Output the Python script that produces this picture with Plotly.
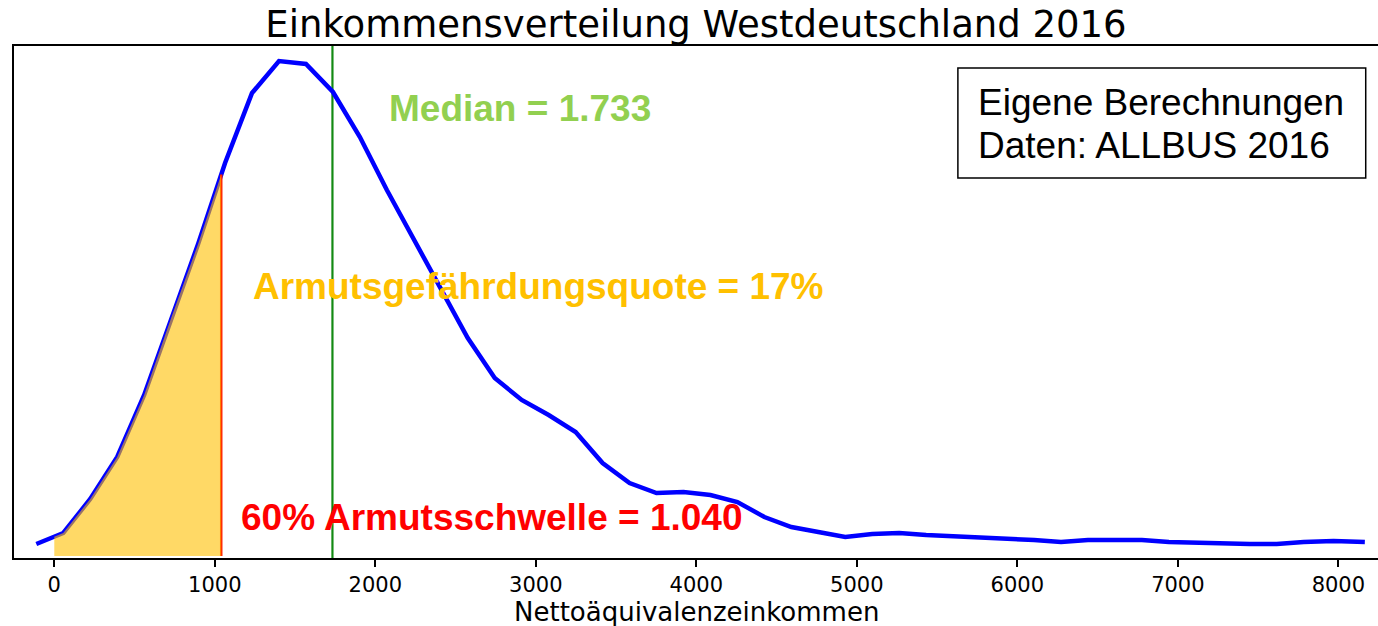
import numpy as np
import plotly.graph_objects as go

# Kernel density estimate of net equivalent income (density in units of 1e-4)
income = [-112, 56, 224, 392, 560, 728, 896, 1064, 1232, 1400,
          1568, 1736, 1904, 2072, 2240, 2408, 2576, 2744, 2912, 3080,
          3248, 3416, 3584, 3752, 3920, 4088, 4256, 4424, 4592, 4760,
          4928, 5096, 5264, 5432, 5600, 5768, 5936, 6104, 6272, 6440,
          6608, 6776, 6944, 7112, 7280, 7448, 7616, 7784, 7970, 8165]
density_e4 = [0.12, 0.23, 0.57, 0.99, 1.61, 2.38, 3.12, 3.93, 4.63, 4.95,
              4.92, 4.64, 4.19, 3.66, 3.16, 2.66, 2.18, 1.78, 1.56, 1.41,
              1.24, 0.93, 0.73, 0.63, 0.64, 0.61, 0.54, 0.39, 0.29, 0.24,
              0.19, 0.22, 0.23, 0.21, 0.20, 0.19, 0.18, 0.16, 0.14, 0.16,
              0.16, 0.16, 0.14, 0.13, 0.12, 0.12, 0.12, 0.14, 0.15, 0.14]

median_income = 1733
poverty_threshold = 1040
tick_values = [0, 1000, 2000, 3000, 4000, 5000, 6000, 7000, 8000]

title_text = "Einkommensverteilung Westdeutschland 2016"
xaxis_title = "Nettoäquivalenzeinkommen"
median_label = "Median = 1.733"
quote_label = "Armutsgefährdungsquote = 17%"
threshold_label = "60% Armutsschwelle = 1.040"
source_lines = ["Eigene Berechnungen", "Daten: ALLBUS 2016"]

inc = np.array(income, dtype=float)
dens = np.array(density_e4, dtype=float)

# shaded area from 0 to poverty threshold
inner = inc[(inc > 0) & (inc < poverty_threshold)]
fill_x = np.concatenate([[0.0], inner, [poverty_threshold]])
fill_y = np.interp(fill_x, inc, dens)
thr_y = float(np.interp(poverty_threshold, inc, dens))

fig = go.Figure()

fig.add_trace(go.Scatter(x=inc, y=dens, mode="lines",
                         line=dict(color="#0000FF", width=4.5),
                         showlegend=False, hoverinfo="skip"))

fig.add_trace(go.Scatter(x=[poverty_threshold, poverty_threshold], y=[0, thr_y],
                         mode="lines", line=dict(color="#FF1A00", width=2.5),
                         showlegend=False, hoverinfo="skip"))

fig.add_trace(go.Scatter(x=fill_x, y=fill_y, mode="none", fill="tozeroy",
                         fillcolor="rgba(255,192,0,0.6)",
                         showlegend=False, hoverinfo="skip"))

fig.add_shape(type="line", xref="x", yref="paper",
              x0=median_income, x1=median_income, y0=0, y1=1,
              line=dict(color="#138A13", width=2.2), layer="below")

bold = dict(family="Liberation Sans, Arial, sans-serif", size=37)
fig.add_annotation(x=2070, y=4.48, xref="x", yref="y", text="<b>%s</b>" % median_label,
                   showarrow=False, xanchor="left", yanchor="middle",
                   font=dict(bold, color="#92D050"))
fig.add_annotation(x=1225, y=2.70, xref="x", yref="y", text="<b>%s</b>" % quote_label,
                   showarrow=False, xanchor="left", yanchor="middle",
                   font=dict(bold, color="#FFC000"))
fig.add_annotation(x=1150, y=0.39, xref="x", yref="y", text="<b>%s</b>" % threshold_label,
                   showarrow=False, xanchor="left", yanchor="middle",
                   font=dict(bold, color="#FF0000"))

# source box
fig.add_shape(type="rect", xref="paper", yref="paper",
              x0=0.692, x1=0.991, y0=0.742, y1=0.957,
              line=dict(color="black", width=1.5), fillcolor="white")
for txt, yy in zip(source_lines, [0.889, 0.805]):
    fig.add_annotation(x=0.7055, y=yy, xref="paper", yref="paper", text=txt,
                       showarrow=False, xanchor="left", yanchor="middle",
                       font=dict(family="Liberation Sans, Arial, sans-serif",
                                 size=37, color="black"))

# x-axis title placed just below tick labels
fig.add_annotation(x=0.5, y=-0.105, xref="paper", yref="paper", text=xaxis_title,
                   showarrow=False, xanchor="center", yanchor="middle",
                   font=dict(family="DejaVu Sans, sans-serif", size=26, color="black"))

fig.update_layout(
    width=1378, height=626,
    margin=dict(l=14, r=0, t=46, b=68, autoexpand=False),
    paper_bgcolor="white", plot_bgcolor="white",
    title=dict(text=title_text, x=0.5, xref="paper", xanchor="center",
               y=0.962, yref="container", yanchor="middle", automargin=False,
               font=dict(family="DejaVu Sans, sans-serif", size=37, color="black")),
    xaxis=dict(range=[-251, 8247], tickvals=tick_values,
               ticktext=[str(v) for v in tick_values], automargin=False,
               ticks="outside", ticklen=7, tickwidth=2, tickcolor="black",
               showline=True, linecolor="black", linewidth=2, mirror=True,
               showgrid=False, zeroline=False,
               tickfont=dict(family="DejaVu Sans, sans-serif", size=21, color="black")),
    yaxis=dict(range=[-0.02, 5.10], showticklabels=False, ticks="", automargin=False,
               showline=True, linecolor="black", linewidth=2, mirror=False,
               showgrid=False, zeroline=False),
)

fig.write_html("out.html",
               config={"displayModeBar": False},
               post_script="document.body.style.margin='0px';"
                           "document.body.style.overflow='hidden';")
